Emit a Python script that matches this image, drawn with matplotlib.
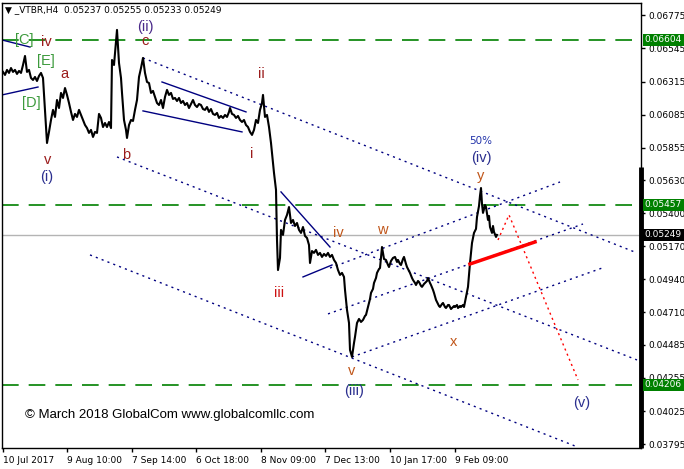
import numpy as np
import matplotlib.pyplot as plt
from matplotlib.transforms import blended_transform_factory

W, H = 684, 469

# (bar, close)
quotes = [
    (3, 0.06382), (5, 0.06361), (7, 0.06396), (9, 0.06375), (11, 0.06409), (13, 0.06382),
    (15, 0.06396), (17, 0.06368), (19, 0.06389), (21, 0.06375), (23, 0.06430), (25, 0.06493),
    (27, 0.06382), (29, 0.06396), (31, 0.06340), (33, 0.06326), (35, 0.06347), (37, 0.06319),
    (39, 0.06354), (41, 0.06375), (43, 0.06340), (45, 0.06118), (47, 0.05888), (49, 0.05965),
    (51, 0.06048), (53, 0.06118), (55, 0.06069), (57, 0.06187), (59, 0.06131), (61, 0.06236),
    (63, 0.06201), (65, 0.06270), (67, 0.06222), (69, 0.06166), (71, 0.06104), (73, 0.06048),
    (75, 0.06090), (77, 0.06069), (79, 0.06118), (81, 0.06083), (83, 0.06048), (85, 0.06013),
    (87, 0.05992), (89, 0.05958), (91, 0.05979), (93, 0.05930), (95, 0.05965), (97, 0.05958),
    (99, 0.06090), (101, 0.06062), (103, 0.05999), (105, 0.06027), (107, 0.05999), (109, 0.06034),
    (111, 0.05992), (112, 0.06465), (114, 0.06430), (115, 0.06514), (117, 0.06674), (119, 0.06444),
    (121, 0.06340), (122, 0.06236), (124, 0.06048), (126, 0.05979), (127, 0.05923), (129, 0.06013),
    (131, 0.06048), (133, 0.06041), (135, 0.06118), (137, 0.06187), (139, 0.06347), (141, 0.06409),
    (143, 0.06479), (145, 0.06375), (147, 0.06312), (149, 0.06305), (151, 0.06236), (153, 0.06250),
    (155, 0.06208), (157, 0.06166), (159, 0.06152), (161, 0.06187), (163, 0.06131), (165, 0.06208),
    (167, 0.06257), (169, 0.06222), (171, 0.06236), (173, 0.06194), (175, 0.06201), (177, 0.06180),
    (179, 0.06201), (181, 0.06166), (183, 0.06180), (185, 0.06152), (187, 0.06166), (189, 0.06131),
    (191, 0.06159), (193, 0.06187), (195, 0.06152), (197, 0.06138), (199, 0.06159), (201, 0.06152),
    (203, 0.06124), (205, 0.06118), (207, 0.06138), (209, 0.06104), (211, 0.06124), (213, 0.06090),
    (215, 0.06083), (217, 0.06097), (219, 0.06062), (221, 0.06076), (223, 0.06062), (225, 0.06083),
    (227, 0.06069), (229, 0.06104), (230, 0.06131), (232, 0.06090), (234, 0.06083), (236, 0.06062),
    (238, 0.06076), (240, 0.06048), (242, 0.06034), (244, 0.06048), (246, 0.06013), (248, 0.05999),
    (250, 0.05965), (252, 0.05944), (254, 0.05979), (256, 0.06048), (258, 0.06027), (260, 0.06118),
    (262, 0.06166), (263, 0.06222), (265, 0.06069), (267, 0.06083), (269, 0.05999), (271, 0.05888),
    (273, 0.05749), (274, 0.05680), (276, 0.05562), (277, 0.05214), (278, 0.05005), (280, 0.05089),
    (281, 0.05284), (283, 0.05249), (285, 0.05353), (287, 0.05388), (289, 0.05443), (291, 0.05332),
    (293, 0.05353), (295, 0.05311), (297, 0.05332), (299, 0.05284), (301, 0.05263), (303, 0.05304),
    (305, 0.05242), (307, 0.05228), (309, 0.05179), (310, 0.05054), (312, 0.05137), (314, 0.05124),
    (316, 0.05145), (318, 0.05110), (320, 0.05124), (322, 0.05096), (324, 0.05117), (326, 0.05103),
    (328, 0.05124), (330, 0.05096), (332, 0.05110), (334, 0.05075), (336, 0.05054), (338, 0.05005),
    (340, 0.04971), (342, 0.04985), (344, 0.04957), (345, 0.04867), (347, 0.04728), (349, 0.04637),
    (350, 0.04450), (352, 0.04401), (354, 0.04498), (355, 0.04540), (357, 0.04637), (359, 0.04665),
    (361, 0.04644), (363, 0.04658), (365, 0.04686), (366, 0.04693), (368, 0.04748), (370, 0.04804),
    (371, 0.04846), (373, 0.04874), (374, 0.04915), (376, 0.04950), (377, 0.04985), (379, 0.05012),
    (380, 0.05019), (382, 0.05165), (384, 0.05082), (386, 0.05075), (388, 0.05040), (389, 0.05026),
    (391, 0.05068), (393, 0.05089), (395, 0.05096), (397, 0.05061), (398, 0.05075), (400, 0.05047),
    (401, 0.05040), (403, 0.05082), (404, 0.05096), (406, 0.05047), (407, 0.05026), (409, 0.04999),
    (410, 0.04985), (412, 0.04950), (413, 0.04936), (415, 0.04915), (416, 0.04901), (418, 0.04929),
    (419, 0.04922), (421, 0.04895), (422, 0.04888), (424, 0.04908), (425, 0.04915), (427, 0.04929),
    (428, 0.04950), (430, 0.04915), (431, 0.04901), (433, 0.04867), (434, 0.04846), (436, 0.04797),
    (437, 0.04783), (439, 0.04755), (440, 0.04748), (442, 0.04769), (443, 0.04776), (445, 0.04748),
    (446, 0.04741), (448, 0.04762), (449, 0.04762), (451, 0.04734), (452, 0.04741), (454, 0.04755),
    (455, 0.04748), (457, 0.04762), (458, 0.04741), (460, 0.04755), (461, 0.04748), (463, 0.04762),
    (464, 0.04748), (466, 0.04818), (468, 0.04888), (470, 0.05054), (472, 0.05193), (474, 0.05263),
    (476, 0.05291), (477, 0.05374), (479, 0.05450), (480, 0.05521), (481, 0.05575), (482, 0.05464),
    (483, 0.05402), (485, 0.05457), (486, 0.05443), (488, 0.05353), (489, 0.05381), (490, 0.05304),
    (492, 0.05263), (493, 0.05311), (494, 0.05270), (496, 0.05235), (497, 0.05249),
]
bars = [q[0] for q in quotes]
close = [q[1] for q in quotes]

date_pos = [3, 67, 132, 196, 261, 325, 390, 455]
date_lab = ['10 Jul 2017', '9 Aug 10:00', '7 Sep 14:00', '6 Oct 18:00',
            '8 Nov 09:00', '7 Dec 13:00', '10 Jan 17:00', '9 Feb 09:00']
price_ticks = [0.06775, 0.06545, 0.06315, 0.06085, 0.05855, 0.05630, 0.05400,
               0.05170, 0.04940, 0.04710, 0.04485, 0.04255, 0.04025, 0.03795]
levels = [0.06604, 0.05457, 0.04206]
last_price = 0.05249

# trend channels (dotted) and wedge lines (solid): (bar, price) endpoints
channels = [((143, 0.06479), (637, 0.05124)),
            ((117, 0.05791), (637, 0.04380)),
            ((90, 0.05110), (575, 0.03782)),
            ((330, 0.05019), (560, 0.05617)),
            ((328, 0.04700), (583, 0.05325)),
            ((352, 0.04401), (605, 0.05026))]
wedges = [((2, 0.06604), (30, 0.06555)),
          ((2, 0.06222), (38, 0.06277)),
          ((162, 0.06312), (246, 0.06104)),
          ((143, 0.06111), (242, 0.05965)),
          ((281, 0.05548), (330, 0.05165)),
          ((303, 0.04957), (332, 0.05040))]
red_line = ((470, 0.05047), (535, 0.05200))
proj_bars = [498, 509, 578]
proj_price = [0.05214, 0.05388, 0.04241]

RED = '#9b1c1c'
ORG = '#c0561a'
NAVY = '#2b2f8f'
GRN = '#3c9a3c'
waves = [
    ('[C]', 24, 40, GRN), ('iv', 46, 42, RED), ('[E]', 46, 61, GRN), ('a', 64, 74, RED),
    ('[D]', 31, 103, GRN), ('v', 48, 160, RED), ('(i)', 47, 177, NAVY), ('b', 126, 155, RED),
    ('(ii)', 145, 27, '#4a2a8a'), ('c', 145, 41, RED), ('ii', 261, 74, RED), ('i', 252, 154, RED),
    ('iii', 279, 293, '#cc1111'), ('iv', 338, 233, ORG), ('w', 382, 230, ORG), ('v', 352, 371, ORG),
    ('(iii)', 354, 391, NAVY), ('x', 454, 342, ORG), ('(iv)', 481, 158, NAVY), ('y', 481, 176, ORG),
    ('(v)', 582, 403, NAVY),
]

fig = plt.figure(figsize=(W / 100, H / 100), dpi=100)
ax = fig.add_axes([2 / W, (H - 448) / H, 639 / W, 445 / H])
ax.set_xlim(2, 641)
ax.set_ylim(0.03768, 0.06861)

for lv in levels:
    ax.axhline(lv, color='#008000', lw=1.2, dashes=(10, 6), zorder=1)
ax.axhline(last_price, color='#b4b4b4', lw=1, zorder=1)

for (x0, y0), (x1, y1) in channels:
    ax.plot([x0, x1], [y0, y1], color='#000080', lw=1, dashes=(1.5, 3), zorder=2)
for (x0, y0), (x1, y1) in wedges:
    ax.plot([x0, x1], [y0, y1], color='#000080', lw=1, zorder=2)

ax.plot(bars, close, color='black', lw=1.5, zorder=3)

ax.plot([red_line[0][0], red_line[1][0]], [red_line[0][1], red_line[1][1]],
        color='red', lw=2.5, zorder=4)
ax.plot(proj_bars, proj_price, color='red', lw=1, dashes=(1.5, 2.5), zorder=4)

# axes styling
for s in ax.spines.values():
    s.set_color('black')
    s.set_linewidth(1)
ax.yaxis.tick_right()
ax.set_yticks(price_ticks)
ax.set_yticklabels([f'{p:.5f}' for p in price_ticks])
ax.set_xticks(date_pos)
ax.set_xticklabels(date_lab, ha='left')
ax.tick_params(axis='both', direction='out', length=3, width=1, labelsize=6.5, pad=2)
ax.tick_params(axis='x', pad=3)

trans = blended_transform_factory(ax.transAxes, ax.transData)
ax.plot([1, 1], [0.03768, 0.05721], transform=trans, color='black', lw=3.5,
        clip_on=False, solid_capstyle='butt', zorder=5)
for lv in levels:
    ax.text(1.006, lv, f'{lv:.5f}', transform=trans, ha='left', va='center', color='white',
            fontsize=6.5, clip_on=False, zorder=6,
            bbox=dict(boxstyle='square,pad=0.2', fc='#008000', ec='none'))
ax.text(1.006, last_price, f'{last_price:.5f}', transform=trans, ha='left', va='center',
        color='white', fontsize=6.5, clip_on=False, zorder=6,
        bbox=dict(boxstyle='square,pad=0.2', fc='black', ec='none'))

for txt, x, y, c in waves:
    fig.text(x / W, 1 - y / H, txt, color=c, fontsize=10.5, ha='center', va='center',
             family='Liberation Sans')
fig.text(481 / W, 1 - 141 / H, '50%', color='#2233aa', fontsize=7.5, ha='center', va='center')

fig.text(5 / W, 1 - 10 / H, '\u25bc _VTBR,H4  0.05237 0.05255 0.05233 0.05249',
         fontsize=6.5, va='center')
fig.text(25 / W, 1 - 415 / H, '\u00a9 March 2018 GlobalCom www.globalcomllc.com',
         fontsize=9.5, family='Liberation Sans', va='center')

fig.savefig('out.png', dpi=100)
